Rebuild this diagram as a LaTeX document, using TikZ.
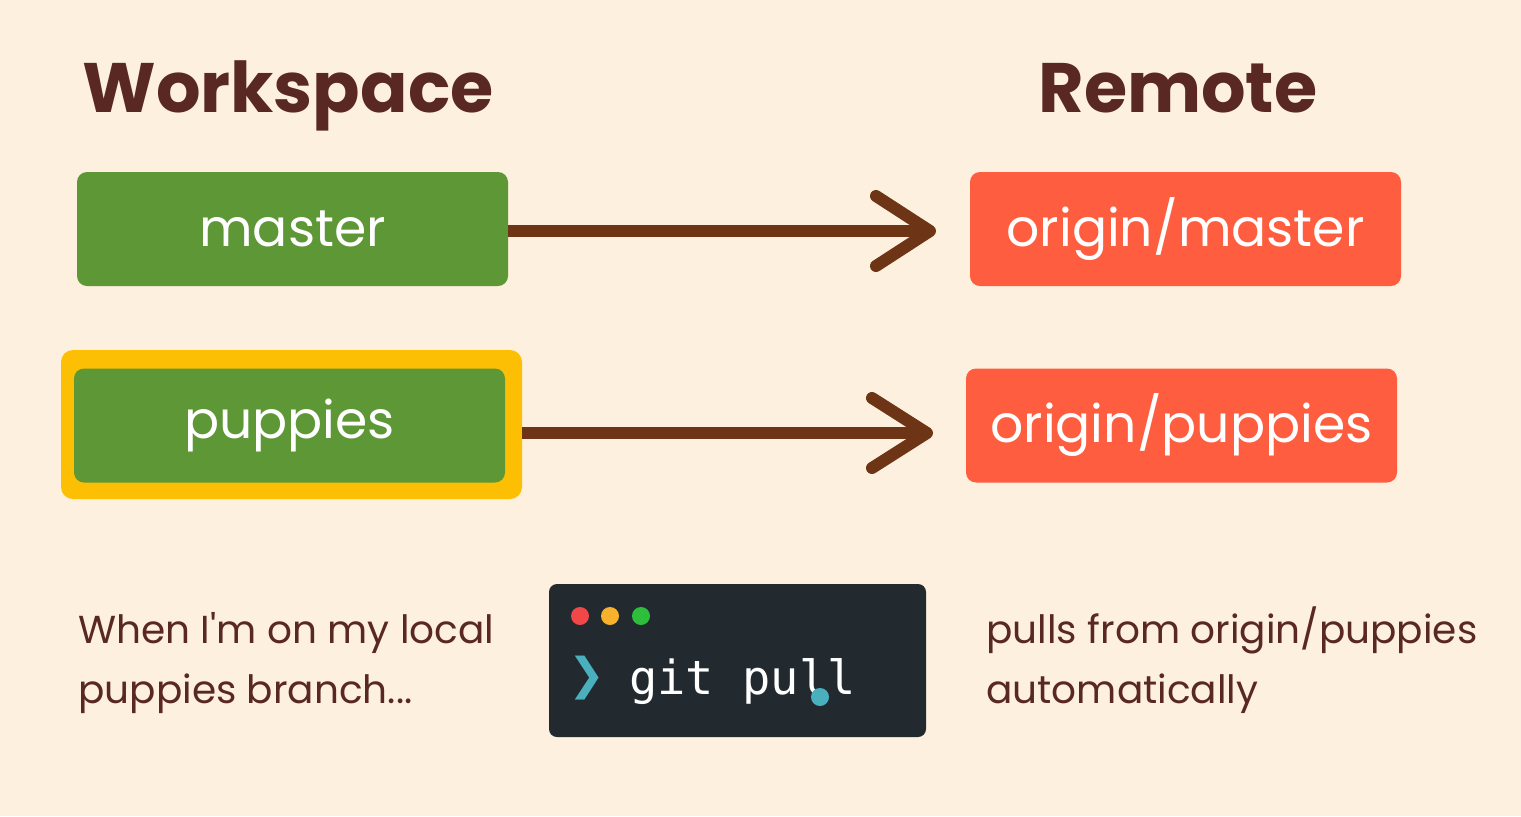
\documentclass[tikz,border=0pt]{standalone}
\usepackage{fontspec}
\setmainfont{Poppins}
\newfontfamily\titlefont{Poppins}
\newfontfamily\termfont{DejaVu Sans Mono}
\newfontfamily\symfont{DejaVu Sans}
\usetikzlibrary{positioning}
\definecolor{bgc}{HTML}{FDF0DE}
\definecolor{txtbrown}{HTML}{5A2822}
\definecolor{boxgreen}{HTML}{5E9735}
\definecolor{boxorange}{HTML}{FE5E3F}
\definecolor{hiyellow}{HTML}{FDBF04}
\definecolor{arrowbrown}{HTML}{6E3416}
\definecolor{termbg}{HTML}{222A2F}
\definecolor{dotred}{HTML}{F04848}
\definecolor{dotyellow}{HTML}{F8B12C}
\definecolor{dotgreen}{HTML}{2DBF3C}
\definecolor{promptteal}{HTML}{4BB0BE}
\tikzset{
  branchbox/.style={rounded corners=5pt, minimum width=215.5pt, minimum height=57pt, inner sep=0pt, text=white, font=\fontsize{26}{32}\selectfont},
  localbox/.style={branchbox, fill=boxgreen},
  remotebox/.style={branchbox, fill=boxorange},
  arrowline/.style={draw=arrowbrown, line width=6pt},
  headline/.style={draw=arrowbrown, line width=6pt, line cap=round, line join=round},
  titletext/.style={text=txtbrown, font=\titlefont\bfseries\fontsize{35}{42}\selectfont, inner sep=0pt, anchor=base},
  bodytext/.style={text=txtbrown, font=\fontsize{19.5}{30}\selectfont, inner sep=0pt, anchor=base west, align=left},
  termdot/.style={circle, minimum size=9pt, inner sep=0pt},
}
\begin{document}
\begin{tikzpicture}[x=0.5pt,y=-0.5pt]
\useasboundingbox (0,0) rectangle (1521,816);
\fill[bgc] (0,0) rectangle (1521,816);
% titles
\node[titletext] (ws) at (288,112) {Workspace};
\node[titletext] (rm) at (1178,112) {Remote};
% highlight frame
\node[fill=hiyellow, rounded corners=6pt, minimum width=230.5pt, minimum height=74.5pt, inner sep=0pt] (hl) at (291.5,424.5) {};
% boxes
\node[localbox] (m) at (292.5,229) {master};
\node[remotebox] (om) at (1185.5,229) {origin/master};
\node[localbox] (p) at (289.5,425.5) {puppies};
\node[remotebox] (op) at (1181.5,425.5) {origin/puppies};
% arrows
\coordinate (t1) at (930,231);
\coordinate (s1) at (920,231);
\draw[arrowline] (m.east|-t1) -- (s1);
\draw[headline] (t1) ++(-54,-35) -- (t1) -- ++(-54,35);
\coordinate (t2) at (927,433);
\coordinate (s2) at (917,433);
\draw[arrowline] (hl.east|-t2) -- (s2);
\draw[headline] (t2) ++(-55,-35) -- (t2) -- ++(-55,35);
% bottom texts
\node[bodytext] (lt) at (78,703) {When I\textquotesingle m on my local\\puppies branch...};
\node[bodytext] (rt) at (986,703) {pulls from origin/puppies\\automatically};
% terminal
\node[fill=termbg, rounded corners=4pt, minimum width=188.5pt, minimum height=76.5pt, inner sep=0pt] (term) at (737.5,660.5) {};
\node[termdot, fill=dotred] (d1) at (580,616) {};
\node[termdot, fill=dotyellow] (d2) at (610,616) {};
\node[termdot, fill=dotgreen] (d3) at (641,616) {};
\node[text=promptteal, font=\symfont\bfseries\fontsize{22}{26}\selectfont, inner sep=0pt] (pr) at (587,678) {\symbol{"276F}};
\node[text=white, font=\termfont\fontsize{23.5}{28}\selectfont, inner sep=0pt, anchor=base west] (cmd) at (629,694) {git pull};
\fill[promptteal] (820,697) circle (4.5pt);
\end{tikzpicture}
\end{document}
